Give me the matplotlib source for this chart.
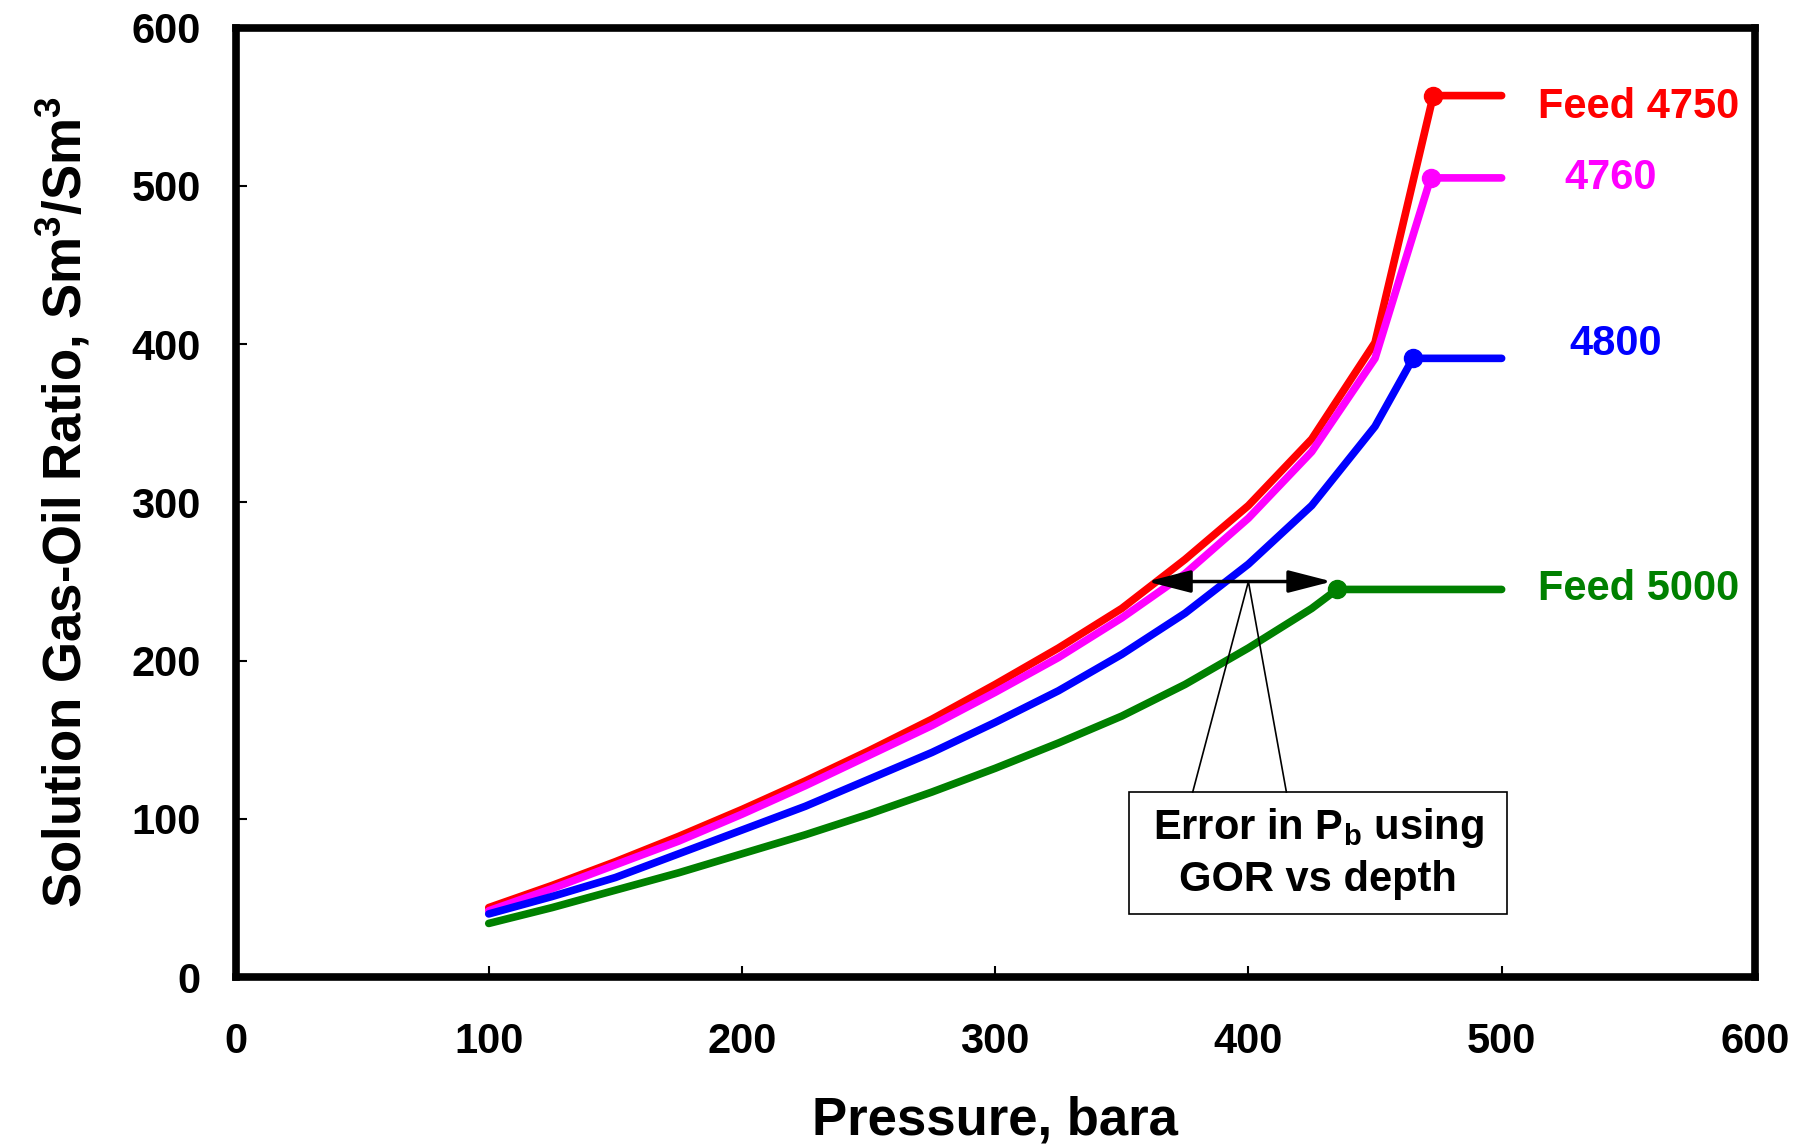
import matplotlib.pyplot as plt
from matplotlib.patches import Rectangle

plt.rcParams['font.family'] = ['Liberation Sans', 'DejaVu Sans']
plt.rcParams['font.weight'] = 'bold'
plt.rcParams['axes.labelweight'] = 'bold'
plt.rcParams['mathtext.default'] = 'regular'

# pressure grid (bara) for the undersaturated-to-bubble-point curves
p = [100, 125, 150, 175, 200, 225, 250, 275, 300, 325, 350, 375, 400, 425, 450]

gor_4750 = [44, 58, 73, 89, 106, 124, 143, 163, 185, 208, 233, 264, 298, 340, 401]
gor_4760 = [42, 56, 71, 86, 103, 121, 140, 159, 180, 202, 227, 255, 290, 332, 391]
gor_4800 = [40, 51, 63, 78, 93, 108, 125, 142, 161, 181, 204, 230, 261, 298, 348]
gor_5000 = [34, 44, 55, 66, 78, 90, 103, 117, 132, 148, 165, 185, 208, 233]
p_5000 = p[:14]

# bubble points and flat line to 500 bara
pb = {'4750': (473, 557), '4760': (472, 505), '4800': (465, 391), '5000': (435, 245)}
p_end = 500

fig = plt.figure(figsize=(17.98, 11.47), dpi=100)
ax = fig.add_axes([0.131, 0.148, 0.845, 0.828])

series = [
    (p, gor_4750, pb['4750'], 'red'),
    (p, gor_4760, pb['4760'], 'magenta'),
    (p, gor_4800, pb['4800'], 'blue'),
    (p_5000, gor_5000, pb['5000'], 'green'),
]
for x, y, (xb, yb), c in series:
    xs = list(x) + [xb, p_end]
    ys = list(y) + [yb, yb]
    ax.plot(xs, ys, color=c, lw=5.5, solid_capstyle='round', solid_joinstyle='round')
    ax.plot([xb], [yb], 'o', color=c, ms=13)

fs = 30
ax.text(554, 550, 'Feed 4750', color='red', fontsize=fs, ha='center', va='center')
ax.text(543, 505, '4760', color='magenta', fontsize=fs, ha='center', va='center')
ax.text(545, 400, '4800', color='blue', fontsize=fs, ha='center', va='center')
ax.text(554, 245, 'Feed 5000', color='green', fontsize=fs, ha='center', va='center')

# error arrow
ax.annotate('', xy=(360, 250), xytext=(433, 250),
            arrowprops=dict(arrowstyle='<|-|>,head_length=0.7,head_width=0.18',
                            color='black', lw=2.5, mutation_scale=38,
                            shrinkA=0, shrinkB=0))

# callout box
ax.add_patch(Rectangle((353, 40), 149, 77, fill=False, ec='black', lw=1.2, zorder=5))
ax.plot([378, 400, 415], [117, 250, 117], color='black', lw=1.2, zorder=5)
ax.text(427.5, 78.5, 'Error in P$_b$ using\nGOR vs depth', fontsize=fs,
        ha='center', va='center', linespacing=1.3, zorder=6)

ax.set_xlim(0, 600)
ax.set_ylim(0, 600)
ax.set_xticks(range(0, 601, 100))
ax.set_yticks(range(0, 601, 100))
ax.tick_params(direction='in', length=8, width=1.5, labelsize=fs, pad=32)
ax.tick_params(axis='y', pad=25)
for s in ax.spines.values():
    s.set_linewidth(5.5)

ax.set_xlabel('Pressure, bara', fontsize=38, labelpad=24)
ax.set_ylabel('Solution Gas-Oil Ratio, Sm$^3$/Sm$^3$', fontsize=38, labelpad=28)

fig.savefig('out.png', dpi=100)
